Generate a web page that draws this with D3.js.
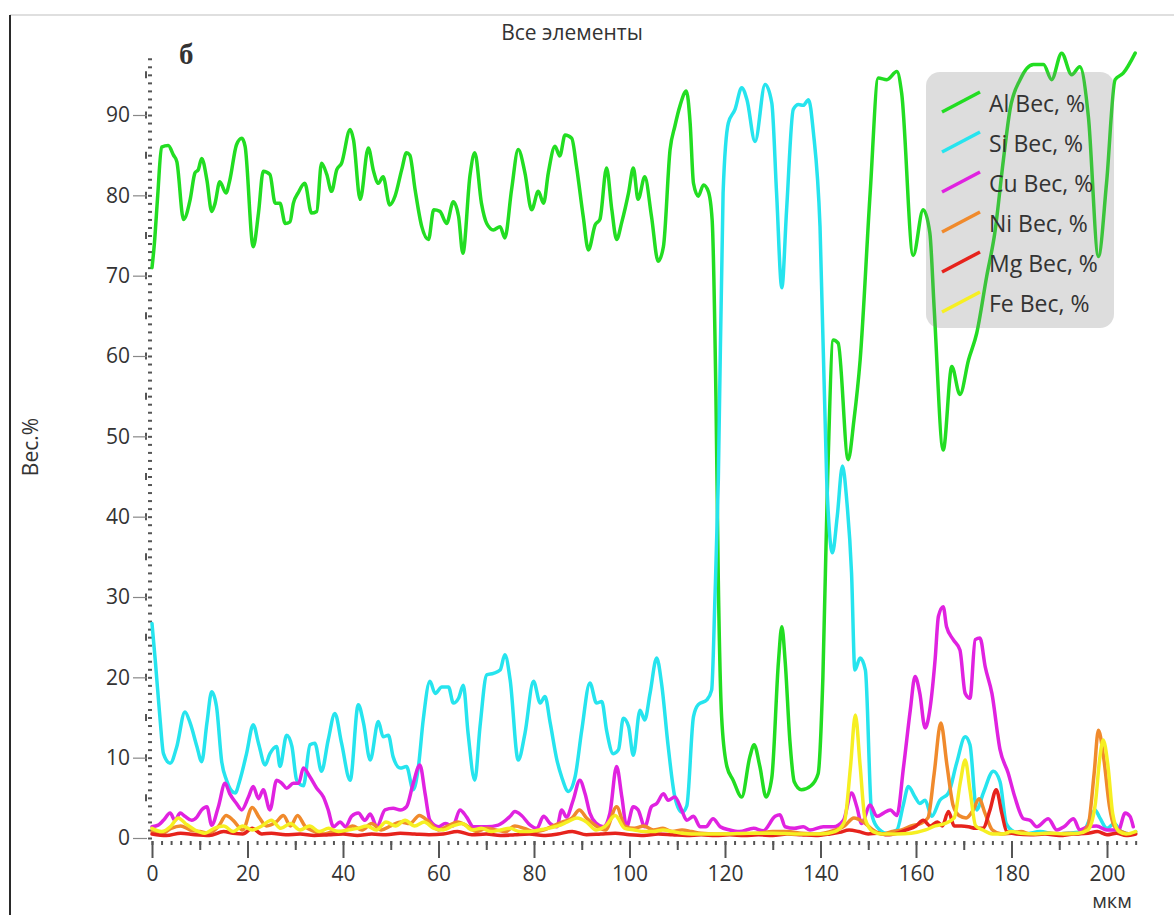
<!DOCTYPE html>
<html>
<head>
<meta charset="utf-8">
<script src="https://cdn.jsdelivr.net/npm/d3@7"></script>
<style>
  html, body { margin: 0; padding: 0; background: #fff; }
  svg { display: block; }
  text { font-family: "Open Sans", "Noto Sans", sans-serif; fill: #333; }
</style>
</head>
<body>
<svg id="chart" width="1174" height="915"></svg>
<script>
// Line-scan profile: element content (weight %) along distance (µm)
const elements = ["Al", "Si", "Cu", "Ni", "Mg", "Fe"];
const legendLabels = ["Al Вес, %", "Si Вес, %", "Cu Вес, %", "Ni Вес, %", "Mg Вес, %", "Fe Вес, %"];
const colors = ["#22dd22", "#26e4ee", "#e022e0", "#f08a2c", "#e6231c", "#f6ef22"];

const xMajorTicks = [0, 20, 40, 60, 80, 100, 120, 140, 160, 180, 200];
const yMajorTicks = [0, 10, 20, 30, 40, 50, 60, 70, 80, 90];

// [distance µm, weight %]
const alData = [[0,71],[0.5,74],[1.2,80],[2,86],[3.4,86.2],[4.5,85],[5.2,84.2],[6.6,77],[8,79.5],[9,82.8],[9.7,83.2],[10.4,84.6],[11.5,81.9],[12.5,78],[13.2,79],[14.2,81.7],[15.5,80.3],[16.3,81.9],[17.7,86.3],[18.8,87.1],[19.5,86.1],[21.2,73.6],[22.3,77.8],[23.3,83],[24.7,82.6],[25.8,79],[26.8,79],[27.9,76.5],[28.9,76.7],[29.6,79],[30.6,80.3],[32,81.5],[33.4,77.8],[34.5,78],[35.5,84],[36.6,82.6],[37.6,80.5],[38.7,83.2],[39.7,84],[41.5,88.2],[42.2,86.9],[43.6,79.5],[45.3,85.9],[46.4,83],[47.4,81.5],[48.4,82.3],[49.8,78.8],[50.9,79.9],[52.3,83.2],[53.3,85.3],[54,85],[55.1,80.7],[56.5,76.1],[57.9,74.5],[59,78.2],[60.3,78],[61.7,76.5],[63.1,79.2],[64.2,77.4],[65.1,72.8],[66.6,82.5],[67.6,85.3],[69,79],[70.1,76.5],[71.5,75.7],[72.9,76.1],[73.9,74.7],[75.3,80.7],[76.7,85.7],[78.1,82.8],[79.5,78.2],[80.9,80.5],[82,79],[83,82.8],[84.4,86.1],[85.4,84.9],[86.5,87.5],[87.9,87.1],[88.9,83.6],[90.3,77.4],[91.4,73.2],[92.8,76.3],[93.8,77],[95.2,83.4],[96.3,78.2],[97.3,74.5],[98.4,76.7],[99.8,80.3],[100.8,83.4],[101.8,79.5],[103.2,82.3],[104.6,77.4],[106,71.8],[107.1,73.6],[108.5,85.7],[109.5,88.6],[110.6,91.2],[111.9,93],[112.7,89],[113.4,81.5],[114.4,79.9],[115.5,81.3],[116.5,80.5],[117.3,77],[118.1,55],[118.6,32],[119.3,15],[120.4,8.9],[121.7,7.2],[123.5,5.1],[125.2,10.1],[126.1,11.6],[127.3,8.9],[128.6,5.1],[129.8,7.5],[131.2,22],[131.9,26.3],[132.6,22],[133.6,12],[134.5,7],[136,6],[138,6.5],[139.5,8],[140.5,20],[141.5,45],[142.7,62],[143.7,61.6],[145.8,47.1],[147,52],[148.3,59.5],[150.4,80.3],[152.1,94.6],[153.9,94.4],[156,95.4],[157,92.7],[159.4,72.5],[161.5,78.2],[162.9,75.3],[163.8,66],[165.7,48.3],[167.5,58.7],[169.2,55.2],[171,59.5],[172.7,62.8],[174.8,69.9],[176.5,75.3],[178.3,84.4],[179.7,90.7],[181.8,94.4],[184.6,96.3],[186.7,96.3],[188.4,94.4],[190.5,97.7],[192.6,95],[194.3,96],[196.1,89.8],[198.2,72.4],[199.9,81.5],[201.7,94.4],[203.4,95.2],[205.9,97.7]];

const siData = [[0,26.7],[0.7,22],[1.7,14.7],[2.4,10.5],[3.8,9.3],[5.2,11.4],[6.9,15.7],[8,14.3],[9.4,11.4],[10.4,9.5],[11.5,14.3],[12.5,18.2],[13.5,16.4],[14.6,9.5],[15.6,7.2],[17.4,5.6],[18.4,7.2],[19.8,10.5],[21.2,14.1],[22.3,11.8],[23.7,9.1],[24.7,10.5],[26.1,11.4],[26.8,8.9],[28.2,12.8],[29.3,11.4],[30.3,7.2],[31.7,6.5],[33.1,11.6],[34.1,11.8],[35.5,8.3],[36.9,12.2],[38.3,15.5],[39.7,11.8],[41.5,7.2],[43.2,16.6],[44.3,14.3],[45.7,9.7],[47.4,14.5],[48.4,12.6],[49.5,12.8],[50.5,10.1],[52,8.7],[53.3,8.9],[54.7,6],[55.8,8.9],[56.8,14.7],[58.2,19.5],[59.3,18],[60.7,18.8],[62.1,18.8],[63.1,16.8],[64.2,17.4],[65.2,19],[66.2,13],[67.6,7.2],[68.7,13.9],[70.1,20.3],[71.5,20.5],[72.9,20.9],[73.9,22.8],[75,19.7],[76.7,9.7],[78.1,13],[79.9,19.5],[81.3,16.8],[82.3,17.6],[83.4,14.3],[84.8,9.7],[85.8,7.6],[87.2,5.8],[88.6,7.6],[90,13.4],[91.7,19.3],[93.1,16.8],[94.2,17],[95.2,13.4],[96.6,10.5],[97.7,11],[98.7,14.9],[99.8,13.9],[100.8,10.3],[102.2,15.9],[103.2,14.7],[104.3,18],[105.7,22.4],[106.7,19.3],[108.1,11.4],[109.5,5.1],[111,3.2],[112,4],[113.4,15.1],[114.4,16.6],[116.2,17.2],[117.2,18.4],[117.9,30],[118.6,44.6],[119.6,80.3],[120.7,89],[122.1,90.7],[123.5,93.4],[124.6,91.9],[126.3,86.7],[128.4,93.8],[129.8,91.5],[130.8,80.3],[131.9,68.5],[132.9,78.2],[134.3,90.7],[135.4,91.3],[136.4,91.2],[137.5,91.9],[138.5,87.9],[139.9,76.1],[141.3,44.6],[142.5,35.5],[143.5,40],[144.6,46.3],[145.5,42],[146.5,33],[147.2,20.9],[148.3,22.4],[149.4,20.9],[150.7,3.1],[151.8,1.4],[153.9,0.6],[156,1],[157.3,4],[158.4,6.4],[159.8,5.1],[160.8,4.3],[161.9,4.7],[163.3,2.7],[165,4.7],[166.8,5.6],[168.5,9.3],[170.3,12.6],[171.3,11.6],[172.7,3.5],[174.1,5.6],[176.2,8.3],[177.6,7],[178.9,1.8],[180.5,0.8],[183,0.5],[186,0.8],[189,0.5],[192,0.6],[195,0.8],[196.5,2.5],[197.5,3.5],[198.5,2.5],[200,1.2],[201.5,1.8],[203,0.8],[205,0.5],[206,0.8]];

const cuData = [[0,1.4],[1.3,1.6],[2.4,2.2],[3.8,3.1],[4.8,2.2],[5.9,3.1],[6.9,2.7],[8.3,2.2],[9.4,2.6],[10.4,3.5],[11.5,3.9],[12.5,1.6],[13.9,3.9],[15.3,6.8],[16.3,5.5],[17.7,4.3],[18.8,3.5],[20.2,5.1],[21.2,6.4],[22.3,4.9],[23.3,6],[24.7,3.5],[26.1,7.2],[27.2,6.8],[28.2,6.2],[29.6,6.8],[30.7,6.8],[31.7,8.7],[33.1,7.6],[34.5,6.2],[35.9,5.1],[36.9,3.5],[38,1.4],[39.4,2],[40.5,1.4],[41.8,2.7],[43.2,3.1],[44.6,2.2],[45.7,3],[47.1,1.4],[48.8,3.5],[50.5,3.7],[52,3.5],[53.3,3.9],[54.7,6.8],[56.1,9.1],[57.2,5.5],[58.2,2.2],[60,1.4],[61.4,1.8],[63,1.5],[64.5,3.5],[65.9,2.6],[67.3,1.4],[70.1,1.4],[72.5,1.6],[75,2.7],[76,3.3],[77.4,2.8],[79.2,1.6],[80.6,1.2],[82,2.7],[83.4,1.8],[84.8,1.4],[85.8,3.5],[86.8,2.6],[88.2,4.7],[89.6,7.2],[90.7,5.5],[91.7,3.1],[93.1,1.8],[94.5,1.4],[95.9,3.1],[97.3,8.9],[98.4,5.1],[99.4,1.4],[100.8,3.9],[101.8,3.5],[103.2,1.4],[104.6,3.9],[105.7,4.3],[107.1,5.5],[108.1,4.7],[109.5,5.1],[110.9,3.5],[112,2.2],[113.4,2.7],[114.8,1.4],[116,1.4],[117.5,2.4],[119,1.4],[121,1],[123,0.8],[126,1.2],[128,0.9],[130.5,2.7],[131.5,2.9],[132.6,1.4],[134.5,1.2],[136.4,1.4],[137.8,1],[140.6,1.4],[142.7,1.4],[144.8,2.2],[146.5,5.6],[147.6,3.9],[148.6,1.8],[150.4,4.1],[151.8,2.7],[153.2,3.1],[154.6,3.5],[156,2.8],[157.4,8.9],[158.8,15.9],[159.8,20.1],[160.8,18],[161.9,13.7],[163,16.4],[164,22.2],[164.7,27.6],[165.7,28.8],[166.4,26.3],[167.8,24.7],[169.2,23.4],[170.3,18],[171.3,17.4],[172.4,24.7],[173.4,24.9],[174.5,21.3],[175.9,18],[177.6,11],[179.3,8.1],[180.7,5.1],[182.5,2.4],[183.9,2.2],[185.3,1.4],[187.7,2.4],[189.5,1],[191,1.4],[193,2.4],[194.3,1],[196,1.4],[197.8,1.5],[200,1],[202.4,1],[203.8,3.1],[204.8,2.7],[205.5,1.4]];

const niData = [[0,0.8],[2,0.5],[4,1.2],[6,1.5],[8,1],[10,0.8],[12,0.6],[14,1.5],[15.5,2.8],[17,2.2],[19,1],[21,3.8],[22.5,2.5],[24,1.5],[26,2],[27.5,2.8],[29,1.5],[30.5,2.8],[32,1.5],[34,0.8],[36,0.5],[38,0.8],[40,0.8],[42,1.5],[44,1],[46,1.8],[48,1],[50,1.5],[52,2],[54,1.8],[56,2.8],[58,2],[60,1],[62,1.5],[64,2],[66,1.5],[68,0.8],[70,1.2],[72,1],[74,0.8],[76,1.5],[78,1.2],[80,0.8],[82,1],[84,1.5],[86,2],[88,2.5],[89.5,3.5],[91,2.5],[93,1.5],[95,1],[97.3,3.9],[99,1.5],[101,1.2],[103,1.5],[105,1],[107,1.2],[109,0.8],[111,1],[113,0.8],[115,0.6],[118,0.5],[121,0.5],[124,0.5],[127,0.6],[130,0.8],[133,0.8],[136,0.6],[139,0.5],[142,0.8],[145,1.5],[147,2.5],[149,2],[151,1],[153,0.5],[155,0.8],[157,1],[159,1.5],[161,1.8],[162.5,2.5],[163.8,8],[165.2,14.3],[166.5,9],[167.8,4],[169,2.8],[170.5,2.5],[172,3.5],[173.2,4.9],[174.5,3],[176,1],[178,0.5],[180,0.6],[182,0.8],[184,0.5],[186,0.5],[188,0.6],[190,0.5],[192,0.6],[194,0.5],[196,1.5],[197.3,8],[198.2,13.4],[199.3,10],[200.5,4],[201.5,1.5],[203,0.8],[205,0.5],[206,0.6]];

const mgData = [[0,0.5],[3,0.3],[6,0.6],[9,0.4],[12,0.3],[15,0.8],[17,0.6],[19,0.5],[21,1.2],[23,0.5],[25,0.6],[28,0.4],[31,0.5],[34,0.3],[37,0.4],[40,0.5],[43,0.3],[46,0.5],[49,0.4],[52,0.6],[55,0.5],[58,0.4],[61,0.5],[64,0.8],[67,0.4],[70,0.5],[73,0.3],[76,0.4],[79,0.5],[82,0.3],[85,0.5],[88,0.8],[91,0.4],[94,0.5],[97,0.6],[100,0.4],[103,0.3],[106,0.5],[109,0.4],[112,0.3],[115,0.4],[118,0.3],[121,0.4],[124,0.3],[127,0.4],[130,0.3],[133,0.5],[136,0.4],[139,0.3],[142,0.5],[144,0.7],[146,1],[148,0.8],[150,0.5],[152,0.6],[154,0.4],[156,0.6],[158,1],[160,1.5],[161.5,2.2],[163,1.5],[164.5,2],[165.5,1.5],[166.8,3.3],[168,1.5],[169.5,1.5],[171,1.4],[172.5,1.2],[174,1.2],[175.5,3.5],[176.8,6],[178,3],[179,0.8],[181,0.5],[184,0.4],[187,0.5],[190,0.3],[193,0.5],[196,0.6],[198,0.8],[200,0.4],[202,0.6],[204,0.3],[206,0.5]];

const feData = [[0,1.2],[2,0.8],[4,1.5],[5.5,2.5],[7,1.8],[9,1],[11,0.6],[13,1.2],[15,1.5],[17,0.8],[19,1.5],[21,1],[23,1.5],[25,2.2],[27,1.2],[29,1.8],[31,1],[33,1.5],[35,0.8],[37,1.2],[39,0.8],[41,1],[43,1.2],[45,1.5],[47,1],[49,2],[51,1.5],[53,2.2],[55,1.5],[57,2],[59,1.2],[61,1],[63,1.5],[65,1.8],[67,1],[69,1.2],[71,0.8],[73,1],[75,1.2],[77,0.8],[79,0.8],[81,1],[83,1.2],[85,1.5],[87,2],[89,2.5],[91,2],[93,1],[95,1.5],[97,2.8],[99,1.2],[101,1],[103,0.8],[105,0.8],[107,1],[109,0.8],[111,0.6],[113,0.5],[116,0.5],[120,0.5],[125,0.6],[130,0.6],[135,0.5],[140,0.5],[143,0.8],[145,2],[146.3,9],[147.3,15.3],[148.3,9],[149.3,2.5],[151,0.8],[153,0.5],[156,0.5],[159,0.6],[162,1],[164,1.5],[166,1.8],[168,2.5],[169.3,7],[170.3,9.7],[171.3,6],[172.5,1.5],[174,1],[176,0.5],[178,0.5],[180,0.8],[182,0.6],[185,0.5],[188,0.6],[191,0.5],[194,0.6],[196,1],[197.5,4],[198.5,10],[199.2,12.2],[200.2,9],[201.2,3],[202.5,0.8],[204,0.5],[206,0.8]];

const seriesData = [alData, siData, cuData, niData, mgData, feData];

const svg = d3.select("#chart");

const x = d3.scaleLinear().domain([0, 200]).range([152, 1107]);
const y = d3.scaleLinear().domain([0, 90]).range([838, 115]);

// outer frame
svg.append("line").attr("x1", 10).attr("x2", 1174).attr("y1", 15).attr("y2", 15)
  .attr("stroke", "#d4d4d4").attr("stroke-width", 1.5);
svg.append("line").attr("x1", 10).attr("x2", 10).attr("y1", 15).attr("y2", 915)
  .attr("stroke", "#2a2a2a").attr("stroke-width", 2);

// ---- Y axis ----
const yAxisG = svg.append("g");
// minor ticks every 1
yAxisG.append("g").attr("transform", "translate(152,0)")
  .call(d3.axisLeft(y).tickValues(d3.range(0, 98, 1)).tickSize(4).tickFormat(""))
  .call(g => g.select(".domain").remove())
  .call(g => g.selectAll("line").attr("stroke", "#555").attr("stroke-width", 2));
// half-decade marks
yAxisG.append("g")
  .selectAll("line").data(d3.range(5, 98, 5)).join("line")
  .attr("x1", 146).attr("x2", 146)
  .attr("y1", d => y(d) - 3.5).attr("y2", d => y(d) + 3.5)
  .attr("stroke", "#555").attr("stroke-width", 2);
// major ticks with labels
yAxisG.append("g").attr("transform", "translate(147,0)")
  .call(d3.axisLeft(y).tickValues(yMajorTicks).tickSize(14).tickPadding(3))
  .call(g => g.select(".domain").remove())
  .call(g => g.selectAll("line").attr("stroke", "#888").attr("stroke-width", 1.2))
  .call(g => g.selectAll("text").attr("font-size", 21).attr("fill", "#333")
    .style("font-family", "'Open Sans', sans-serif"));

// ---- X axis ----
const xAxisG = svg.append("g");
xAxisG.append("g").attr("transform", "translate(0,841)")
  .call(d3.axisBottom(x).tickValues(d3.range(0, 207, 2)).tickSize(4).tickFormat(""))
  .call(g => g.select(".domain").remove())
  .call(g => g.selectAll("line").attr("stroke", "#555").attr("stroke-width", 2));
xAxisG.append("g").attr("transform", "translate(0,841)")
  .call(d3.axisBottom(x).tickValues(d3.range(10, 207, 20)).tickSize(9).tickFormat(""))
  .call(g => g.select(".domain").remove())
  .call(g => g.selectAll("line").attr("stroke", "#555").attr("stroke-width", 2));
xAxisG.append("g").attr("transform", "translate(0,841)")
  .call(d3.axisBottom(x).tickValues(xMajorTicks).tickSize(17).tickPadding(8))
  .call(g => g.select(".domain").remove())
  .call(g => g.selectAll("line").attr("stroke", "#555").attr("stroke-width", 2))
  .call(g => g.selectAll("text").attr("font-size", 21).attr("fill", "#333")
    .style("font-family", "'Open Sans', sans-serif"));

// ---- series lines ----
const line = d3.line()
  .x(d => x(d[0]))
  .y(d => y(d[1]))
  .curve(d3.curveMonotoneX);

svg.append("g").selectAll("path")
  .data(seriesData).join("path")
  .attr("d", line)
  .attr("fill", "none")
  .attr("stroke", (d, i) => colors[i])
  .attr("stroke-width", 3.5)
  .attr("stroke-linejoin", "round")
  .attr("stroke-linecap", "round");

// ---- legend ----
const legend = svg.append("g");
legend.append("rect")
  .attr("x", 926).attr("y", 72).attr("width", 188).attr("height", 256)
  .attr("rx", 14).attr("ry", 14)
  .attr("fill", "rgba(130,130,130,0.27)");
const items = legend.selectAll("g.item").data(elements).join("g")
  .attr("class", "item")
  .attr("transform", (d, i) => `translate(0,${103 + i * 40})`);
items.append("line")
  .attr("x1", 942).attr("y1", 9).attr("x2", 980).attr("y2", -11)
  .attr("stroke", (d, i) => colors[i]).attr("stroke-width", 3.5);
items.append("text")
  .attr("x", 989).attr("y", 9)
  .attr("font-size", 23)
  .text((d, i) => legendLabels[i]);

// ---- titles ----
svg.append("text").attr("x", 572).attr("y", 40).attr("text-anchor", "middle")
  .attr("font-size", 21).text("Все элементы");
svg.append("text").attr("x", 179).attr("y", 64)
  .style("font-family", "'Liberation Serif', 'DejaVu Serif', serif")
  .attr("font-weight", "bold").attr("font-size", 29).attr("fill", "#111")
  .text("б");
svg.append("text")
  .attr("transform", "translate(38,447) rotate(-90)")
  .attr("text-anchor", "middle").attr("font-size", 21)
  .text("Вес.%");
svg.append("text").attr("x", 1112).attr("y", 908).attr("text-anchor", "middle")
  .attr("font-size", 20).text("мкм");
</script>
</body>
</html>
